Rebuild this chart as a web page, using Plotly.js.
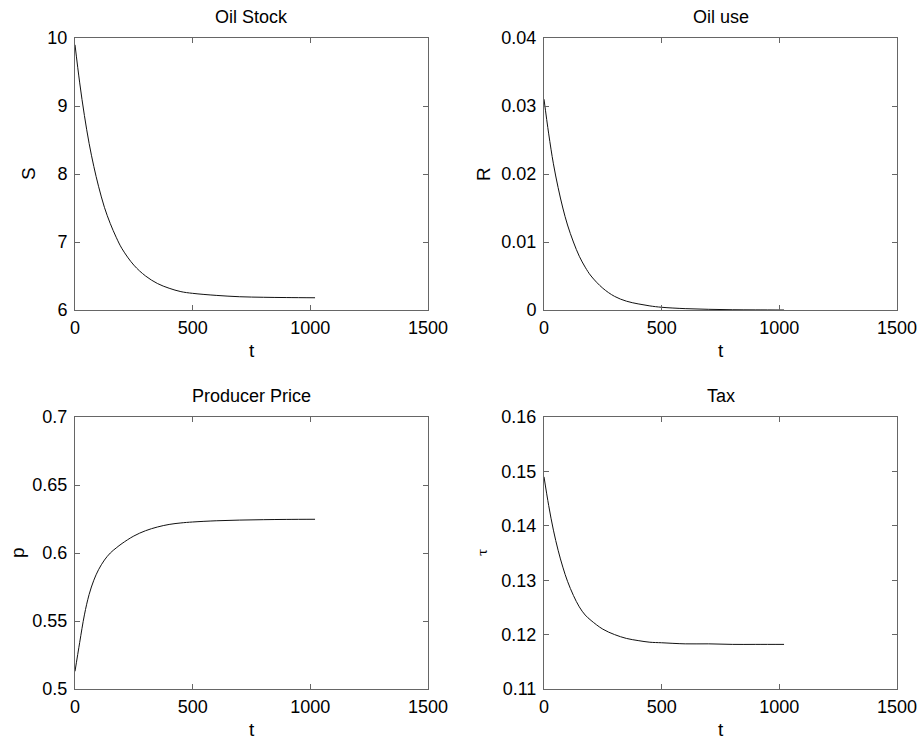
<!DOCTYPE html>
<html>
<head>
<meta charset="utf-8">
<script src="https://cdn.plot.ly/plotly-3.0.1.min.js"></script>
<style>html,body{margin:0;padding:0;background:#fff;}#chart{width:923px;height:744px;}</style>
</head>
<body>
<div id="chart"></div>
<script>
// time grid (t)
const t = [0, 20, 40, 60, 80, 100, 125, 150, 175, 200, 250, 300, 350, 400, 450, 500, 600, 700, 800, 900, 1020];
// Oil Stock S
const S = [9.90, 9.34, 8.86, 8.45, 8.11, 7.82, 7.51, 7.27, 7.07, 6.90, 6.66, 6.50, 6.39, 6.32, 6.27, 6.245, 6.215, 6.195, 6.187, 6.183, 6.18];
// Oil use R
const R = [0.0310, 0.0259, 0.0215, 0.0180, 0.0150, 0.0125, 0.0100, 0.0079, 0.0063, 0.0050, 0.0032, 0.0020, 0.0013, 0.0009, 0.0006, 0.0004, 0.0002, 0.0001, 0.00004, 0.00002, 0.0];
// Producer Price p
const P = [0.513, 0.5343, 0.5545, 0.5695, 0.5800, 0.5877, 0.5948, 0.6000, 0.6037, 0.6070, 0.6125, 0.6164, 0.6191, 0.6210, 0.6221, 0.6228, 0.6237, 0.6242, 0.6245, 0.6247, 0.6248];
// Tax tau
const TAU = [0.1490, 0.1437, 0.1392, 0.1355, 0.1324, 0.1298, 0.1272, 0.1251, 0.1236, 0.1226, 0.1210, 0.1200, 0.1193, 0.1189, 0.1186, 0.1185, 0.1183, 0.1183, 0.1182, 0.1182, 0.1182];

const panelTitles = ["Oil Stock", "Oil use", "Producer Price", "Tax"];
const yLabels = ["S", "R", "p", "\u03c4"];
const yRanges = [[6, 10], [0, 0.04], [0.5, 0.7], [0.11, 0.16]];
const yDticks = [1, 0.01, 0.05, 0.01];
const xRange = [0, 1500];
const xDtick = 500;

const W = 923, H = 744;
// plot-area pixel boxes [left, right, top, bottom]
const boxes = [[75, 428, 38, 310], [544, 897, 38, 310], [75, 428, 417, 689], [544, 897, 417, 689]];
const yLabelX = [28, 483, 17, 482];

const series = [S, R, P, TAU];
const FONT = "Liberation Sans, Arial, sans-serif";
const traces = [];
const layout = {
  width: W, height: H,
  margin: {l: 0, r: 0, t: 0, b: 0},
  paper_bgcolor: "#fff", plot_bgcolor: "#fff",
  showlegend: false,
  font: {family: FONT, color: "#000", size: 18},
  annotations: []
};

for (let i = 0; i < 4; i++) {
  const n = i + 1;
  const xa = n === 1 ? "xaxis" : "xaxis" + n;
  const ya = n === 1 ? "yaxis" : "yaxis" + n;
  const b = boxes[i];
  traces.push({
    x: t, y: series[i], type: "scatter", mode: "lines",
    line: {color: "#111", width: 1, shape: "spline", smoothing: 1},
    xaxis: "x" + (n === 1 ? "" : n), yaxis: "y" + (n === 1 ? "" : n),
    hoverinfo: "skip"
  });
  const common = {
    showline: true, linecolor: "#666", linewidth: 1, mirror: "allticks",
    ticks: "inside", ticklen: 5, tickcolor: "#666", tickwidth: 1,
    showgrid: false, zeroline: false, fixedrange: true,
    tickfont: {family: FONT, size: 18, color: "#000"}
  };
  layout[xa] = Object.assign({}, common, {
    domain: [b[0] / W, b[1] / W], range: xRange, tick0: 0, dtick: xDtick,
    anchor: "y" + (n === 1 ? "" : n), ticklabelstandoff: 1
  });
  layout[ya] = Object.assign({}, common, {
    domain: [1 - b[3] / H, 1 - b[2] / H], range: yRanges[i], tick0: yRanges[i][0], dtick: yDticks[i],
    anchor: "x" + (n === 1 ? "" : n), ticklabelstandoff: 3
  });
  const cx = (b[0] + b[1]) / 2 / W;
  // subplot title
  layout.annotations.push({
    text: panelTitles[i], xref: "paper", yref: "paper", x: cx, y: 1 - (b[2] - 21) / H,
    xanchor: "center", yanchor: "middle", showarrow: false,
    font: {family: FONT, size: 18, color: "#000"}
  });
  // x label
  layout.annotations.push({
    text: "t", xref: "paper", yref: "paper", x: cx, y: 1 - (b[3] + 40) / H,
    xanchor: "center", yanchor: "middle", showarrow: false,
    font: {family: FONT, size: 19, color: "#000"}
  });
  // y label
  layout.annotations.push({
    text: yLabels[i], xref: "paper", yref: "paper", x: yLabelX[i] / W, y: 1 - (b[2] + b[3]) / 2 / H,
    xanchor: "center", yanchor: "middle", showarrow: false, textangle: -90,
    font: {family: i === 3 ? "DejaVu Serif, serif" : FONT, size: i === 3 ? 13 : 19, color: "#000"}
  });
}

Plotly.newPlot("chart", traces, layout, {displayModeBar: false, staticPlot: true});
</script>
</body>
</html>
